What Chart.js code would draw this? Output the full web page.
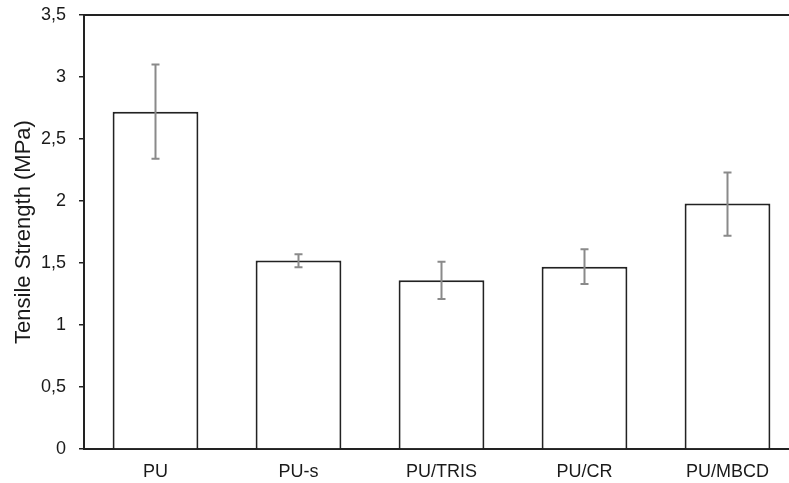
<!DOCTYPE html>
<html>
<head>
<meta charset="utf-8">
<script src="https://cdn.jsdelivr.net/npm/chart.js@4/dist/chart.umd.min.js"></script>
<style>
  html, body { margin: 0; padding: 0; background: #fff; overflow: hidden; }
  #wrap { width: 800px; height: 483px; position: relative; }
</style>
</head>
<body>
<div id="wrap"><canvas id="c"></canvas></div>
<script>
const categories = ['PU', 'PU-s', 'PU/TRIS', 'PU/CR', 'PU/MBCD'];
const strength = [2.72, 1.52, 1.36, 1.47, 1.98];
const errHigh = [3.10, 1.57, 1.51, 1.61, 2.23];
const errLow = [2.34, 1.465, 1.21, 1.33, 1.72];
const yTickValues = [0, 0.5, 1, 1.5, 2, 2.5, 3, 3.5];
const yTickLabels = ['0', '0,5', '1', '1,5', '2', '2,5', '3', '3,5'];
const yTitle = 'Tensile Strength (MPa)';

const FONT = "'Liberation Sans', Arial, sans-serif";
const TEXT = '#1a1a1a';

const errorBars = {
  id: 'errorBars',
  afterDatasetsDraw(chart) {
    const ctx = chart.ctx;
    const meta = chart.getDatasetMeta(0);
    const y = chart.scales.y;
    ctx.save();
    ctx.strokeStyle = '#8a8a8a';
    ctx.lineWidth = 2;
    meta.data.forEach((bar, i) => {
      const x = bar.x;
      const yh = y.getPixelForValue(errHigh[i]);
      const yl = y.getPixelForValue(errLow[i]);
      const cap = 4;
      ctx.beginPath();
      ctx.moveTo(x, yh); ctx.lineTo(x, yl);
      ctx.moveTo(x - cap, yh); ctx.lineTo(x + cap, yh);
      ctx.moveTo(x - cap, yl); ctx.lineTo(x + cap, yl);
      ctx.stroke();
    });
    ctx.restore();
  }
};

new Chart(document.getElementById('c'), {
  type: 'bar',
  data: {
    labels: categories,
    datasets: [{
      data: strength,
      backgroundColor: '#ffffff',
      borderColor: '#222222',
      borderWidth: 2,
      barPercentage: 0.6,
      categoryPercentage: 1.0
    }]
  },
  options: {
    responsive: true,
    maintainAspectRatio: false,
    animation: false,
    devicePixelRatio: 1,
    layout: { padding: { top: 15, right: 1, left: 0, bottom: 0 } },
    plugins: { legend: { display: false }, tooltip: { enabled: false } },
    scales: {
      x: {
        position: 'bottom',
        grid: { display: false, drawTicks: false },
        border: { display: true, color: '#222222', width: 2 },
        ticks: { color: TEXT, font: { family: FONT, size: 18 }, padding: 12, maxRotation: 0 },
        afterFit(s) { s.height = 34; s.paddingLeft = 0; s.paddingRight = 0; }
      },
      x2: {
        position: 'top',
        type: 'category',
        labels: categories,
        grid: { display: false, drawTicks: false },
        border: { display: true, color: '#222222', width: 2 },
        ticks: { display: false },
        afterFit(s) { s.height = 0; }
      },
      y: {
        min: 0,
        max: 3.5,
        afterBuildTicks(s) { s.ticks = yTickValues.map(v => ({ value: v })); },
        grid: { display: true, drawOnChartArea: false, drawTicks: true, tickLength: 5, color: '#222222', lineWidth: 1.5 },
        border: { display: true, color: '#222222', width: 2 },
        ticks: {
          color: TEXT,
          font: { family: FONT, size: 18 },
          padding: 13,
          callback(value) { const i = yTickValues.indexOf(value); return i >= 0 ? yTickLabels[i] : ''; }
        },
        title: {
          display: true,
          text: yTitle,
          color: TEXT,
          font: { family: FONT, size: 22 },
          padding: { top: 11, bottom: 0 }
        },
        afterFit(s) { s.width = 84; s.paddingTop = 0; s.paddingBottom = 0; }
      }
    }
  },
  plugins: [errorBars]
});
</script>
</body>
</html>
